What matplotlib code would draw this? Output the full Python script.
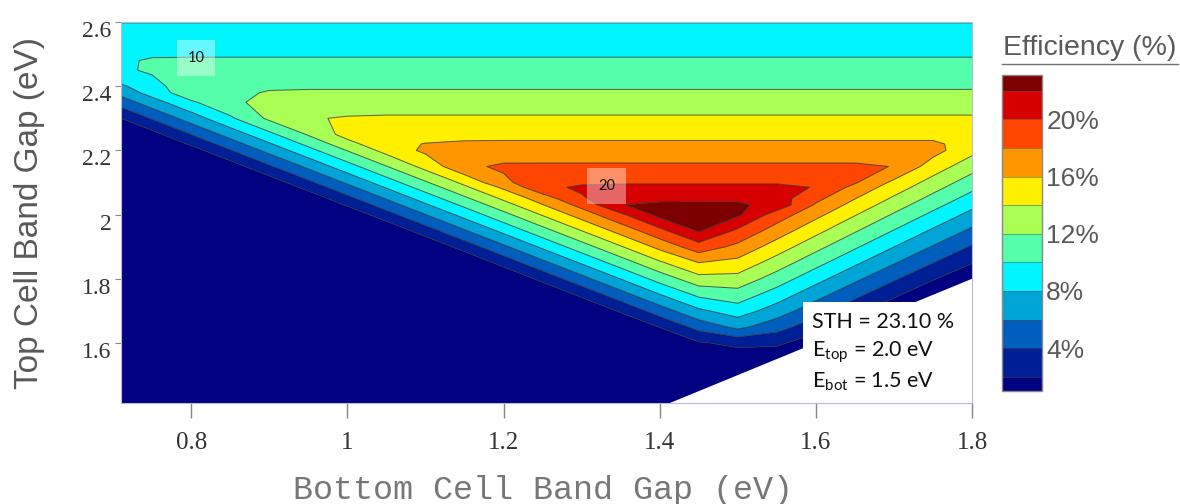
import numpy as np
import matplotlib
matplotlib.use('Agg')
import matplotlib.pyplot as plt
from matplotlib.colors import ListedColormap, BoundaryNorm
from matplotlib.cm import ScalarMappable
from matplotlib.patches import Rectangle
from matplotlib.lines import Line2D
import matplotlib.transforms as mtransforms

plt.rcParams['font.family'] = ['Liberation Sans', 'DejaVu Sans']
plt.rcParams['mathtext.fontset'] = 'custom'
plt.rcParams['mathtext.rm'] = 'Lato'
plt.rcParams['mathtext.it'] = 'Lato:italic'
plt.rcParams['mathtext.bf'] = 'Lato:bold'

nan = float('nan')

# ---------------- data ----------------
bottom_gap = [0.70, 0.75, 0.80, 0.85, 0.90, 0.95, 1.00, 1.05, 1.10, 1.15, 1.20, 1.25,
              1.30, 1.35, 1.40, 1.45, 1.50, 1.55, 1.60, 1.65, 1.70, 1.75, 1.80]
top_gap = [1.40, 1.45, 1.50, 1.55, 1.60, 1.65, 1.70, 1.75, 1.80, 1.85, 1.90, 1.95,
           2.00, 2.03, 2.05, 2.085, 2.10, 2.15, 2.20, 2.22, 2.25, 2.30, 2.35, 2.38,
           2.40, 2.45, 2.48, 2.50, 2.55, 2.60]

# efficiency (%) : one row per top gap, one column per bottom gap (nan = not computed)
efficiency = [
    [0.0, 0.0, 0.0, 0.0, 0.0, 0.0, 0.0, 0.0, 0.0, 0.0, 0.0, 0.0, 0.0, 0.0, 0.0, nan, nan, nan, nan, nan, nan, nan, nan],
    [0.0, 0.0, 0.0, 0.0, 0.0, 0.0, 0.0, 0.0, 0.0, 0.0, 0.0, 0.0, 0.0, 0.0, 0.0, 0.0, nan, nan, nan, nan, nan, nan, nan],
    [0.0, 0.0, 0.0, 0.0, 0.0, 0.0, 0.0, 0.0, 0.0, 0.0, 0.0, 0.0, 0.0, 0.0, 0.0, 0.0, 0.0, nan, nan, nan, nan, nan, nan],
    [0.0, 0.0, 0.0, 0.0, 0.0, 0.0, 0.0, 0.0, 0.0, 0.0, 0.0, 0.0, 0.0, 0.0, 0.0, 0.0, 0.8, 0.5, nan, nan, nan, nan, nan],
    [0.0, 0.0, 0.0, 0.0, 0.0, 0.0, 0.0, 0.0, 0.0, 0.0, 0.0, 0.0, 0.0, 0.0, 0.0, 1.8, 2.5, 2.4, 0.8, nan, nan, nan, nan],
    [0.0, 0.0, 0.0, 0.0, 0.0, 0.0, 0.0, 0.0, 0.0, 0.0, 0.0, 0.0, 0.0, 0.0, 2.09, 4.7, 6.5, 4.8, 2.79, 0.65, nan, nan, nan],
    [0.0, 0.0, 0.0, 0.0, 0.0, 0.0, 0.0, 0.0, 0.0, 0.0, 0.0, 0.0, 0.0, 2.25, 4.99, 7.6, 9.0, 7.03, 4.76, 2.58, 0.49, nan, nan],
    [0.0, 0.0, 0.0, 0.0, 0.0, 0.0, 0.0, 0.0, 0.0, 0.0, 0.0, 0.0, 2.42, 5.15, 7.89, 10.4, 11.1, 9.04, 6.73, 4.51, 2.38, 0.34, nan],
    [0.0, 0.0, 0.0, 0.0, 0.0, 0.0, 0.0, 0.0, 0.0, 0.0, 0.0, 2.58, 5.32, 8.05, 10.79, 13.3, 13.3, 11.06, 8.70, 6.43, 4.26, 2.18, 0.20],
    [0.0, 0.0, 0.0, 0.0, 0.0, 0.0, 0.0, 0.0, 0.0, 0.0, 2.74, 5.48, 8.22, 10.95, 13.69, 16.0, 15.4, 13.07, 10.67, 8.36, 6.15, 4.03, 2.1],
    [0.0, 0.0, 0.0, 0.0, 0.0, 0.0, 0.0, 0.0, 0.17, 2.90, 5.64, 8.38, 11.12, 13.85, 16.59, 19.2, 17.5, 15.08, 12.64, 10.29, 8.03, 5.87, 3.80],
    [0.0, 0.0, 0.0, 0.0, 0.0, 0.0, 0.0, 0.33, 3.07, 5.80, 8.54, 11.28, 14.02, 16.75, 19.49, 22.2, 19.67, 17.09, 14.61, 12.22, 9.92, 7.71, 5.60],
    [0.0, 0.0, 0.0, 0.0, 0.0, 0.0, 0.49, 3.23, 5.97, 8.70, 11.44, 14.18, 16.92, 19.65, 22.6, 23.1, 22.3, 19.11, 16.58, 14.14, 11.80, 9.55, 7.40],
    [0.0, 0.0, 0.0, 0.0, 0.0, 0.0, 2.23, 4.97, 7.71, 10.44, 13.18, 15.92, 18.66, 21.95, 22.33, 22.33, 22.33, 21.3, 17.76, 15.30, 12.93, 10.66, 8.48],
    [0.0, 0.0, 0.0, 0.0, 0.0, 0.65, 3.39, 6.13, 8.87, 11.60, 14.34, 17.0, 19.8, 21.2, 21.6, 21.64, 21.64, 20.9, 18.55, 16.07, 13.69, 11.40, 9.20],
    [0.0, 0.0, 0.0, 0.0, 0.0, 2.68, 5.42, 8.16, 10.90, 13.63, 16.37, 19.5, 20.3, 20.36, 20.36, 20.36, 20.36, 20.36, 19.93, 17.42, 15.01, 12.69, 10.46],
    [0.0, 0.0, 0.0, 0.0, 0.82, 3.55, 6.29, 9.03, 11.77, 14.5, 17.6, 19.2, 19.7, 19.85, 19.85, 19.85, 19.85, 19.85, 19.6, 18.2, 15.57, 13.24, 11.0],
    [0.0, 0.0, 0.0, 0.98, 3.72, 6.45, 9.19, 11.93, 14.67, 17.6, 18.3, 18.31, 18.31, 18.31, 18.31, 18.31, 18.31, 18.31, 18.31, 18.31, 17.95, 15.08, 12.80],
    [0.0, 0.0, 1.14, 3.88, 6.62, 9.35, 12.09, 14.7, 16.4, 16.8, 16.86, 16.86, 16.86, 16.86, 16.86, 16.86, 16.86, 16.86, 16.86, 16.86, 16.86, 16.7, 14.60],
    [0.0, 0.0, 2.30, 5.04, 7.78, 10.51, 13.25, 15.6, 16.05, 16.25, 16.29, 16.29, 16.29, 16.29, 16.29, 16.29, 16.29, 16.29, 16.29, 16.29, 16.29, 16.29, 15.32],
    [0.0, 1.30, 4.04, 6.78, 9.52, 12.2, 14.8, 15.3, 15.5, 15.5, 15.5, 15.5, 15.5, 15.5, 15.5, 15.5, 15.5, 15.5, 15.5, 15.5, 15.5, 15.5, 15.3],
    [1.47, 4.20, 6.94, 9.68, 12.4, 13.85, 14.15, 14.25, 14.25, 14.25, 14.25, 14.25, 14.25, 14.25, 14.25, 14.25, 14.25, 14.25, 14.25, 14.25, 14.25, 14.25, 14.25],
    [4.37, 7.10, 9.7, 11.6, 12.6, 12.95, 13.0, 13.0, 13.0, 13.0, 13.0, 13.0, 13.0, 13.0, 13.0, 13.0, 13.0, 13.0, 13.0, 13.0, 13.0, 13.0, 13.0],
    [6.11, 8.84, 11.3, 11.7, 12.1, 12.2, 12.2, 12.2, 12.2, 12.2, 12.2, 12.2, 12.2, 12.2, 12.2, 12.2, 12.2, 12.2, 12.2, 12.2, 12.2, 12.2, 12.2],
    [7.27, 9.3, 11.3, 11.7, 11.8, 11.8, 11.8, 11.8, 11.8, 11.8, 11.8, 11.8, 11.8, 11.8, 11.8, 11.8, 11.8, 11.8, 11.8, 11.8, 11.8, 11.8, 11.8],
    [9.5, 10.3, 10.7, 10.8, 10.8, 10.8, 10.8, 10.8, 10.8, 10.8, 10.8, 10.8, 10.8, 10.8, 10.8, 10.8, 10.8, 10.8, 10.8, 10.8, 10.8, 10.8, 10.8],
    [9.7, 10.15, 10.2, 10.2, 10.2, 10.2, 10.2, 10.2, 10.2, 10.2, 10.2, 10.2, 10.2, 10.2, 10.2, 10.2, 10.2, 10.2, 10.2, 10.2, 10.2, 10.2, 10.2],
    [9.81, 9.81, 9.81, 9.81, 9.81, 9.81, 9.81, 9.81, 9.81, 9.81, 9.81, 9.81, 9.81, 9.81, 9.81, 9.81, 9.81, 9.81, 9.81, 9.81, 9.81, 9.81, 9.81],
    [8.86, 8.86, 8.86, 8.86, 8.86, 8.86, 8.86, 8.86, 8.86, 8.86, 8.86, 8.86, 8.86, 8.86, 8.86, 8.86, 8.86, 8.86, 8.86, 8.86, 8.86, 8.86, 8.86],
    [7.95, 7.95, 7.95, 7.95, 7.95, 7.95, 7.95, 7.95, 7.95, 7.95, 7.95, 7.95, 7.95, 7.95, 7.95, 7.95, 7.95, 7.95, 7.95, 7.95, 7.95, 7.95, 7.95],
]

fill_levels = [-1, 2, 4, 6, 8, 10, 12, 14, 16, 18, 20, 22, 24]
line_levels = [2, 4, 6, 8, 10, 12, 14, 16, 18, 20, 22]
colorbar_bounds = [1, 2, 4, 6, 8, 10, 12, 14, 16, 18, 20, 22, 23.1]
colorbar_ticks = [4, 8, 12, 16, 20]
colorbar_ticklabels = ['4%', '8%', '12%', '16%', '20%']
band_colors = ['#000080', '#001E96', '#005FBE', '#00A5D7', '#00F5FF', '#55FFAA',
               '#AAFF55', '#FFF000', '#FF9600', '#FF4600', '#D70000', '#7D0000']

x_ticks = [0.8, 1.0, 1.2, 1.4, 1.6, 1.8]
x_ticklabels = ['0.8', '1', '1.2', '1.4', '1.6', '1.8']
y_ticks = [1.6, 1.8, 2.0, 2.2, 2.4, 2.6]
y_ticklabels = ['1.6', '1.8', '2', '2.2', '2.4', '2.6']

label_10_pos = (0.806, 2.488)
label_20_pos = (1.332, 2.088)
sth_lines = ['STH = 23.10 %', r'E$_{\mathrm{top}}$ = 2.0 eV', r'E$_{\mathrm{bot}}$ = 1.5 eV']

# ---------------- figure ----------------
W, H = 1180, 504
fig = plt.figure(figsize=(W / 100, H / 100), dpi=100)
ax = fig.add_axes([121 / W, (H - 403) / H, 851 / W, 381 / H])

X, Y = np.meshgrid(bottom_gap, top_gap)
Z = np.ma.masked_invalid(np.array(efficiency))

ax.contourf(X, Y, Z, levels=fill_levels, colors=band_colors, corner_mask=True, antialiased=True)
ax.contour(X, Y, Z, levels=line_levels, colors='#2a2a2a', linewidths=0.7, alpha=0.75)

ax.set_xlim(0.71, 1.80)
ax.set_ylim(1.413, 2.60)

ax.set_xticks(x_ticks)
ax.set_xticklabels(x_ticklabels)
ax.set_yticks(y_ticks)
ax.set_yticklabels(y_ticklabels)
ax.tick_params(axis='x', direction='out', length=11, width=1.0, color='#888888', pad=10,
               labelsize=18, labelcolor='#333333')
ax.tick_params(axis='y', direction='out', length=4, width=0.8, color='#888888', pad=3,
               labelsize=17, labelcolor='#333333')
for lab in ax.get_xticklabels() + ax.get_yticklabels():
    lab.set_fontfamily('Liberation Serif')
offset = mtransforms.ScaledTranslation(0, -5 / 72, fig.dpi_scale_trans)
for lab in ax.get_yticklabels():
    lab.set_transform(lab.get_transform() + offset)

for sp in ax.spines.values():
    sp.set_color('#b8b8d8')
    sp.set_linewidth(0.8)

# contour labels
for txt, pos in (('10', label_10_pos), ('20', label_20_pos)):
    ax.text(pos[0], pos[1], txt, fontsize=10.5, family='Lato', color='#111111',
            ha='center', va='center', zorder=5,
            bbox=dict(boxstyle='square,pad=0.75', fc='white', ec='none', alpha=0.4))

# white annotation box
ax.add_patch(Rectangle(((803 - 121) / 851, 0), 0.3, (403 - 302) / 381, transform=ax.transAxes,
                       fc='white', ec='none', zorder=4))
for k, s in enumerate(sth_lines):
    ax.text((812 - 121) / 851, (403 - 322 - 30 * k) / 381, s, transform=ax.transAxes,
            fontsize=15.5, family='Lato', color='#111111', ha='left', va='center', zorder=6)

# axis labels
fig.text(30 / W, 1 - 213 / H, 'Top Cell Band Gap (eV)', rotation=90, ha='center', va='center',
         fontsize=24, color='#595959', family='Liberation Sans')
fig.text(543 / W, 1 - 490 / H, 'Bottom Cell Band Gap (eV)', ha='center', va='center',
         fontsize=24, color='#777777', family='Liberation Mono')

# colorbar
cax = fig.add_axes([1002 / W, (H - 391) / H, 40 / W, 316 / H])
cmap = ListedColormap(band_colors)
norm = BoundaryNorm(colorbar_bounds, cmap.N)
sm = ScalarMappable(norm=norm, cmap=cmap)
cb = fig.colorbar(sm, cax=cax, boundaries=colorbar_bounds, spacing='proportional',
                  ticks=colorbar_ticks, drawedges=True)
cb.ax.minorticks_off()
cb.ax.set_yticklabels(colorbar_ticklabels)
cb.ax.tick_params(which='both', length=0, pad=3, labelsize=19, labelcolor='#595959')
cb.outline.set_edgecolor('#888888')
cb.outline.set_linewidth(1.0)
cb.dividers.set_color('#505050')
cb.dividers.set_linewidth(0.6)
cb.dividers.set_alpha(0.6)

fig.text(1090 / W, 1 - 48 / H, 'Efficiency (%)', ha='center', va='center', fontsize=20.5,
         color='#595959', family='Liberation Sans')
fig.add_artist(Line2D([1002 / W, 1178 / W], [1 - 64 / H, 1 - 64 / H], color='#707070', lw=1.0))

fig.savefig('out.png', dpi=100)
